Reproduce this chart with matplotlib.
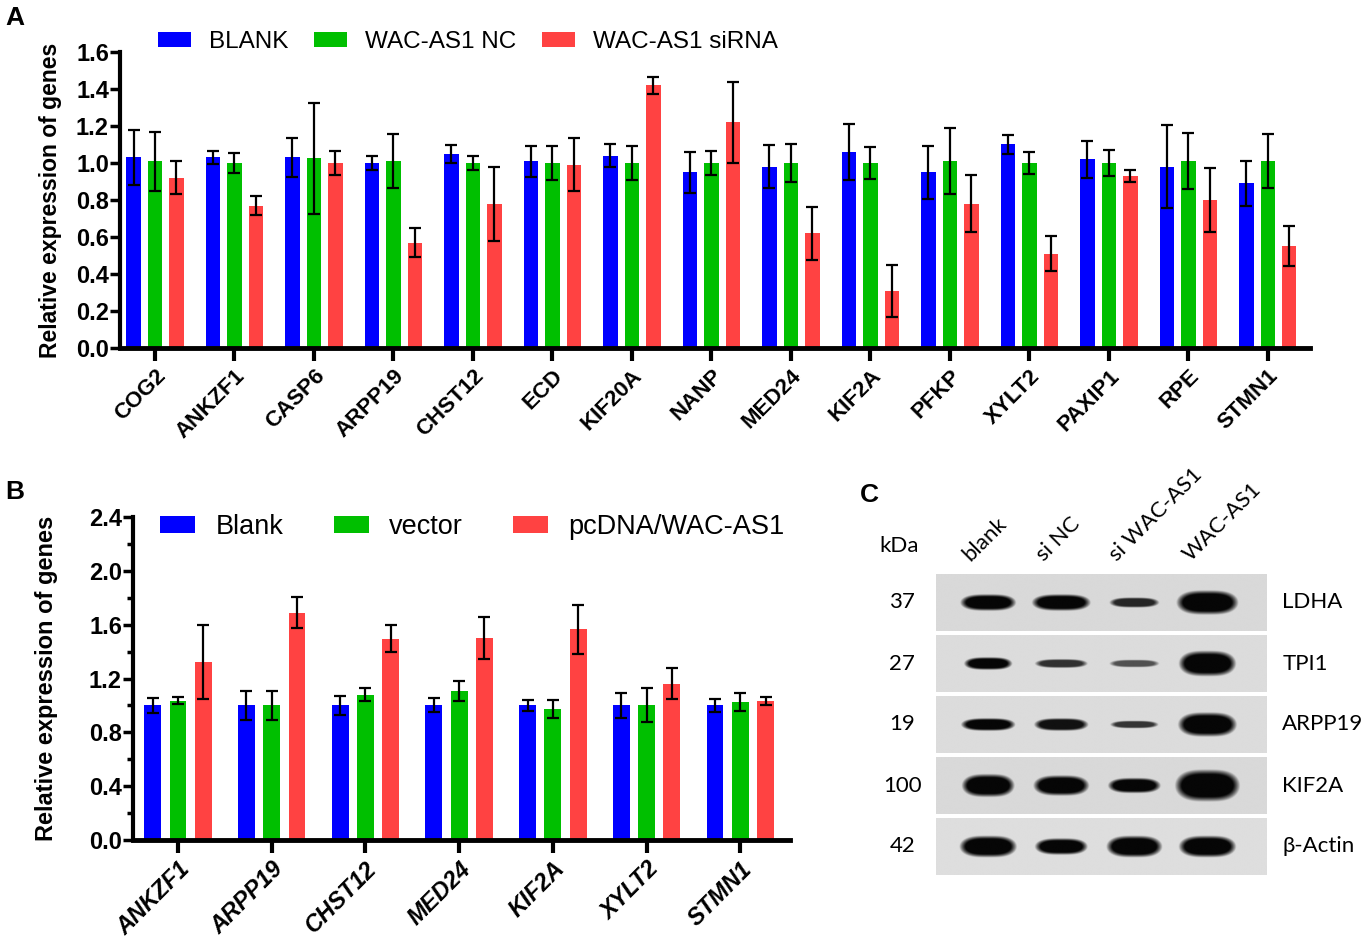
import numpy as np
import matplotlib
matplotlib.use("Agg")
import matplotlib.pyplot as plt
from matplotlib.ticker import FormatStrFormatter, MultipleLocator

plt.rcParams['font.family'] = ['Liberation Sans', 'DejaVu Sans']

# ---- panel A data ----
genes_a = ['COG2', 'ANKZF1', 'CASP6', 'ARPP19', 'CHST12', 'ECD', 'KIF20A', 'NANP',
           'MED24', 'KIF2A', 'PFKP', 'XYLT2', 'PAXIP1', 'RPE', 'STMN1']
blank_a = [1.03, 1.03, 1.03, 1.00, 1.05, 1.01, 1.04, 0.95, 0.98, 1.06, 0.95, 1.10, 1.02, 0.98, 0.89]
blank_a_err = [0.15, 0.037, 0.105, 0.036, 0.048, 0.084, 0.063, 0.11, 0.115, 0.15, 0.143, 0.05, 0.10, 0.224, 0.12]
nc_a = [1.01, 1.00, 1.025, 1.01, 1.00, 1.00, 1.00, 1.00, 1.00, 1.00, 1.01, 1.00, 1.00, 1.01, 1.01]
nc_a_err = [0.16, 0.055, 0.30, 0.145, 0.04, 0.092, 0.094, 0.066, 0.105, 0.085, 0.18, 0.06, 0.072, 0.15, 0.147]
si_a = [0.92, 0.77, 1.00, 0.57, 0.78, 0.99, 1.42, 1.22, 0.62, 0.31, 0.78, 0.51, 0.93, 0.80, 0.55]
si_a_err = [0.09, 0.053, 0.065, 0.08, 0.20, 0.143, 0.045, 0.22, 0.143, 0.14, 0.153, 0.095, 0.032, 0.173, 0.109]
labels_a = ['BLANK', 'WAC-AS1 NC', 'WAC-AS1 siRNA']

# ---- panel B data ----
genes_b = ['ANKZF1', 'ARPP19', 'CHST12', 'MED24', 'KIF2A', 'XYLT2', 'STMN1']
blank_b = [1.00, 1.00, 1.00, 1.00, 1.00, 1.00, 1.00]
blank_b_err = [0.058, 0.11, 0.07, 0.052, 0.041, 0.092, 0.046]
vec_b = [1.035, 1.00, 1.08, 1.107, 0.973, 1.005, 1.023]
vec_b_err = [0.024, 0.11, 0.047, 0.072, 0.067, 0.127, 0.068]
oe_b = [1.32, 1.69, 1.494, 1.50, 1.566, 1.162, 1.035]
oe_b_err = [0.275, 0.118, 0.10, 0.156, 0.183, 0.113, 0.031]
labels_b = ['Blank', 'vector', 'pcDNA/WAC-AS1']

# ---- panel C data (western blot: band darkness, half width, half height per lane) ----
lanes_c = ['blank', 'si NC', 'si WAC-AS1', 'WAC-AS1']
proteins_c = ['LDHA', 'TPI1', 'ARPP19', 'KIF2A', 'β-Actin']
kda_c = ['37', '27', '19', '100', '42']
band_dark = [[1.00, 1.00, 0.85, 1.00],
             [1.00, 0.80, 0.65, 1.00],
             [1.00, 0.95, 0.78, 1.00],
             [1.00, 1.00, 1.00, 1.00],
             [1.00, 1.00, 1.00, 1.00]]
band_w = [[0.37, 0.39, 0.33, 0.41],
          [0.32, 0.35, 0.33, 0.38],
          [0.36, 0.36, 0.32, 0.39],
          [0.35, 0.37, 0.35, 0.43],
          [0.38, 0.35, 0.37, 0.38]]
band_h = [[0.13, 0.13, 0.08, 0.19],
          [0.10, 0.07, 0.06, 0.20],
          [0.10, 0.10, 0.06, 0.19],
          [0.18, 0.16, 0.12, 0.25],
          [0.17, 0.13, 0.17, 0.17]]
strip_bg = [0.85, 0.86, 0.86, 0.85, 0.87]

colors = ['#0000FF', '#00BF00', '#FF4242']
W, H = 1361, 946

fig = plt.figure(figsize=(W / 100, H / 100), dpi=100)


def style_axes(ax):
    for s in ['top', 'right']:
        ax.spines[s].set_visible(False)
    ax.spines['left'].set_linewidth(3)
    ax.spines['bottom'].set_linewidth(3.5)
    ax.tick_params(axis='y', direction='out', length=7, width=2.5, pad=1)
    ax.tick_params(axis='x', direction='out', length=9.5, width=3, pad=3)
    ax.yaxis.set_major_formatter(FormatStrFormatter('%.1f'))


def grouped(ax, genes, series, errs, labels):
    x = np.arange(len(genes))
    for k in range(3):
        ax.bar(x + (k - 1) * 0.27, series[k], 0.18, yerr=errs[k], color=colors[k],
               label=labels[k],
               error_kw=dict(ecolor='black', elinewidth=1.6, capsize=4, capthick=1.6))
    ax.set_xticks(x)


# ---- A ----
axA = fig.add_axes([120 / W, 1 - 348 / H, 1190 / W, 296 / H])
grouped(axA, genes_a, [blank_a, nc_a, si_a], [blank_a_err, nc_a_err, si_a_err], labels_a)
axA.set_xlim(-0.44, 14.53)
axA.set_ylim(0, 1.6)
axA.yaxis.set_major_locator(MultipleLocator(0.2))
style_axes(axA)
axA.set_xticklabels(genes_a, rotation=45, ha='right', rotation_mode='anchor',
                    fontweight='bold', fontsize=16)
for t in axA.get_yticklabels():
    t.set_fontweight('bold')
    t.set_fontsize(17)
axA.set_ylabel('Relative expression of genes', fontweight='bold', fontsize=16.5)
axA.yaxis.set_label_coords(-58 / 1190, 0.5)
axA.legend(loc='center left', bbox_to_anchor=(158 / W, 1 - 42 / H), bbox_transform=fig.transFigure,
           ncol=3, frameon=False, fontsize=17.5, handlelength=1.35, handleheight=0.62,
           handletextpad=0.75, columnspacing=1.05, borderpad=0, borderaxespad=0)

# ---- B ----
axB = fig.add_axes([133 / W, 1 - 840 / H, 657 / W, 323 / H])
grouped(axB, genes_b, [blank_b, vec_b, oe_b], [blank_b_err, vec_b_err, oe_b_err], labels_b)
axB.set_xlim(-0.48, 6.53)
axB.set_ylim(0, 2.4)
axB.yaxis.set_major_locator(MultipleLocator(0.4))
axB.yaxis.set_minor_locator(MultipleLocator(0.2))
style_axes(axB)
axB.tick_params(axis='y', which='minor', length=4, width=2.5)
axB.set_xticklabels(genes_b, rotation=45, ha='right', rotation_mode='anchor',
                    fontweight='bold', fontstyle='italic', fontsize=17)
for t in axB.get_yticklabels():
    t.set_fontweight('bold')
    t.set_fontsize(17)
axB.set_ylabel('Relative expression of genes', fontweight='bold', fontsize=17)
axB.yaxis.set_label_coords(-75 / 657, 0.5)
axB.legend(loc='center left', bbox_to_anchor=(160 / W, 1 - 527 / H), bbox_transform=fig.transFigure,
           ncol=3, frameon=False, fontsize=19.5, handlelength=1.3, handleheight=0.62,
           handletextpad=0.75, columnspacing=1.85, borderpad=0, borderaxespad=0)

# ---- C ----
axC = fig.add_axes([936 / W, 1 - 877 / H, 331 / W, 305 / H])
x0, x1 = -0.71, 3.81
xs = np.linspace(x0, x1, 500)
for j in range(len(proteins_c)):
    ys = np.linspace(j - 0.46, j + 0.46, 120)
    X, Y = np.meshgrid(xs, ys)
    dark = np.zeros_like(X)
    for i in range(len(lanes_c)):
        r = np.abs((X - i) / band_w[j][i]) ** 3.2 + np.abs((Y - j) / band_h[j][i]) ** 2
        g = band_dark[j][i] * np.clip(1.6 * (1.15 - r), 0, 1)
        dark = np.maximum(dark, g)
    img = strip_bg[j] * (1 - 0.97 * dark)
    axC.imshow(img, cmap='gray', vmin=0, vmax=1, extent=[x0, x1, j + 0.46, j - 0.46],
               aspect='auto', interpolation='bilinear')
axC.set_xlim(x0, x1)
axC.set_ylim(4.5, -0.5)
axC.axis('off')
cfont = ['Lato', 'DejaVu Sans']
for j in range(len(proteins_c)):
    axC.text(-1.17, j, kda_c[j], ha='center', va='center', fontsize=16, family=cfont, clip_on=False)
    axC.text(4.02, j, proteins_c[j], ha='left', va='center', fontsize=16, family=cfont, clip_on=False)
for i, lab in enumerate(lanes_c):
    axC.text(i - 0.2, -0.62, lab, rotation=45, ha='left', va='bottom', rotation_mode='anchor',
             fontsize=16, family=cfont, clip_on=False)
axC.text(-1.22, -0.93, 'kDa', ha='center', va='center', fontsize=16, family=cfont, clip_on=False)

fig.text(5 / W, 1 - 18 / H, 'A', fontsize=19, fontweight='bold', va='center')
fig.text(5 / W, 1 - 492 / H, 'B', fontsize=19, fontweight='bold', va='center')
fig.text(860 / W, 1 - 495 / H, 'C', fontsize=19, fontweight='bold', va='center')

fig.savefig('out.png', dpi=100)
